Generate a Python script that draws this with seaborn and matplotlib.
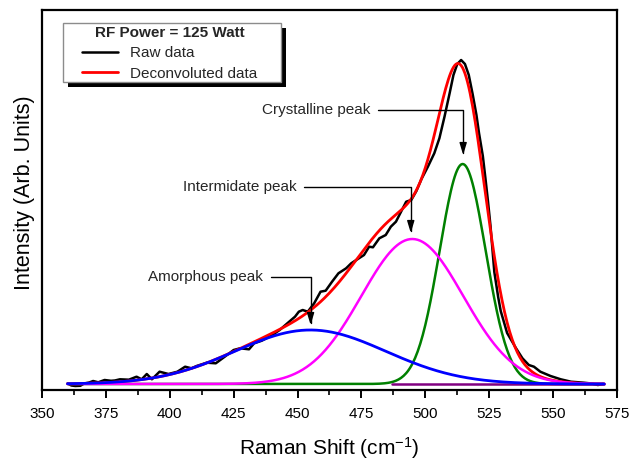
import numpy as np
import pandas as pd
import seaborn as sns
import matplotlib
matplotlib.use("Agg")
import matplotlib.pyplot as plt
from matplotlib.ticker import MultipleLocator
from matplotlib.patches import Rectangle
from matplotlib.transforms import IdentityTransform

# Measured Raman spectrum (arbitrary intensity units)
raman_shift = [360, 361.5, 363, 365, 366.5, 368.5, 370, 372, 374.5, 377, 378.5, 380.5,
               384, 387, 389, 391, 393, 396, 399.5, 403, 406, 408.5, 410.5, 414.5, 418,
               421.5, 425, 427.5, 431, 433, 436, 439.5, 443, 446, 449, 450.5, 452, 454,
               456.5, 459, 461, 463.5, 466, 469, 471, 474, 476, 478, 479.5, 482, 484.5,
               486.5, 488.5, 490.5, 492.5, 494.5, 496.5, 498.5, 501, 503.5, 505.5, 507.5,
               509.5, 511, 512.5, 514, 515.5, 517, 518.5, 520, 521, 522.5, 523.5, 524.5,
               525.5, 527, 528.5, 529.5, 532, 535.5, 538, 540.5, 542.5, 545, 549, 553,
               557, 562, 565, 567.5, 569.5]
raw_intensity = [0.5, -1.5, -2, -1.8, 0.5, 1.5, 3, 1.7, 4, 3.2, 3.5, 4.7,
                 4.3, 7.3, 4.7, 10, 4.7, 12.3, 10, 12.3, 17.3, 15.7, 18, 21.3, 20.7,
                 27.3, 34, 35.7, 34.7, 40.7, 43.3, 48, 54, 60.7, 67.3, 72.3, 74, 72.3,
                 80.7, 92.3, 93.3, 102.3, 110.7, 115.7, 120.7, 125.7, 129, 137.3, 136.7, 145.7, 149,
                 157.3, 162.3, 172.3, 182.3, 184, 193, 205, 217.3, 230.7, 245.7, 267.3,
                 290.7, 309, 320, 324, 320, 309, 290, 269, 251, 228, 206, 183,
                 158, 112, 87, 73, 51, 35.7, 25.7, 19, 17.3, 12.3, 8, 4.7,
                 2.3, 1.3, 0.5, -1, 0]

# Fitted Gaussian components: amorphous, intermediate, crystalline
peak_names = ["Amorphous", "Intermediate", "Crystalline"]
peak_centers = [455.0, 494.9, 514.6]
peak_fwhm = [69.5, 47.0, 21.2]
peak_heights = [54.0, 145.0, 220.0]
peak_colors = ["#0000ff", "#ff00ff", "#008000"]
fit_range = [360, 570]
baseline_range = [487, 570]

sns.set_theme(style="ticks")
plt.rcParams["font.family"] = ["Liberation Sans", "DejaVu Sans"]
plt.rcParams["mathtext.fontset"] = "custom"
plt.rcParams["mathtext.rm"] = "Liberation Sans"
plt.rcParams["mathtext.default"] = "regular"

shift_grid = np.arange(fit_range[0], fit_range[1] + 0.01, 0.5)
components = {}
for name, c, w, h in zip(peak_names, peak_centers, peak_fwhm, peak_heights):
    components[name] = h * np.exp(-4 * np.log(2) * (shift_grid - c) ** 2 / w ** 2)
fit_total = sum(components.values())

raw_df = pd.DataFrame({"shift": raman_shift, "intensity": raw_intensity})
fit_df = pd.DataFrame({"shift": shift_grid, "intensity": fit_total})

fig = plt.figure(figsize=(6.32, 4.63), dpi=100)
ax = fig.add_axes([42 / 632, 1 - 390 / 463, 575 / 632, 380 / 463])

sns.lineplot(data=raw_df, x="shift", y="intensity", ax=ax, color="black", lw=1.8,
             sort=False, estimator=None)
raw_line = ax.lines[-1]
sns.lineplot(data=fit_df, x="shift", y="intensity", ax=ax, color="#ff0000", lw=2.0,
             sort=False, estimator=None)
fit_line = ax.lines[-1]

sns.lineplot(x=shift_grid, y=components["Crystalline"], ax=ax, color=peak_colors[2],
             lw=1.8, sort=False, estimator=None)
sns.lineplot(x=baseline_range, y=[0, 0], ax=ax, color="#800080", lw=1.8,
             sort=False, estimator=None)
sns.lineplot(x=shift_grid, y=components["Intermediate"], ax=ax, color=peak_colors[1],
             lw=1.8, sort=False, estimator=None)
sns.lineplot(x=shift_grid, y=components["Amorphous"], ax=ax, color=peak_colors[0],
             lw=2.0, sort=False, estimator=None)

ax.set_xlim(350, 575)
ax.set_ylim(-6, 374)
ax.xaxis.set_major_locator(MultipleLocator(25))
ax.xaxis.set_minor_locator(MultipleLocator(12.5))
ax.tick_params(axis="x", which="major", length=6, width=1.4, direction="out",
               labelsize=11, pad=6, colors="black")
ax.tick_params(axis="x", which="minor", length=3.5, width=1.2, direction="out",
               colors="black")
ax.tick_params(axis="y", left=False, labelleft=False)
for sp in ax.spines.values():
    sp.set_visible(True)
    sp.set_color("black")
    sp.set_linewidth(1.6)

ax.set_xlabel("Raman Shift (cm$^{-1}$)", fontsize=15, color="black")
ax.set_ylabel("Intensity (Arb. Units)", fontsize=15.5, color="black")
ax.xaxis.set_label_coords(0.5, -0.118)
ax.yaxis.set_label_coords(-0.012, 0.52)

arrow_kw = dict(arrowstyle="-|>,head_length=0.6,head_width=0.18", color="black", lw=1.0,
                connectionstyle="angle,angleA=0,angleB=90,rad=0",
                shrinkA=3, shrinkB=0, mutation_scale=12)
ax.annotate("Amorphous peak", xy=(455.1, 59), xytext=(436.6, 107), ha="right",
            va="center", fontsize=11, arrowprops=arrow_kw)
ax.annotate("Intermidate peak", xy=(494.3, 151), xytext=(449.6, 197.3), ha="right",
            va="center", fontsize=11, arrowprops=arrow_kw)
ax.annotate("Crystalline peak", xy=(514.8, 229), xytext=(478.6, 274), ha="right",
            va="center", fontsize=11, arrowprops=arrow_kw)

# Legend box with a solid drop shadow
H = 463
ax.add_artist(Rectangle((68, H - 87), 218, 59, transform=IdentityTransform(),
                        facecolor="black", edgecolor="none", zorder=4, clip_on=False))
ax.add_artist(Rectangle((63, H - 82), 218, 59, transform=IdentityTransform(),
                        facecolor="white", edgecolor="#8c8c8c", lw=1.0, zorder=4.5,
                        clip_on=False))
leg = ax.legend(handles=[raw_line, fit_line], labels=["Raw data", "Deconvoluted data"],
                title="RF Power = 125 Watt", loc="upper left",
                bbox_to_anchor=(82 / 632, 1 - 26 / H), bbox_transform=fig.transFigure,
                borderaxespad=0, borderpad=0, frameon=False, fontsize=11,
                title_fontproperties={"weight": "bold", "size": 11},
                handlelength=2.35, handletextpad=0.8, labelspacing=0.42)
leg.set_zorder(5)

fig.savefig("out.png", dpi=100, facecolor="white")
